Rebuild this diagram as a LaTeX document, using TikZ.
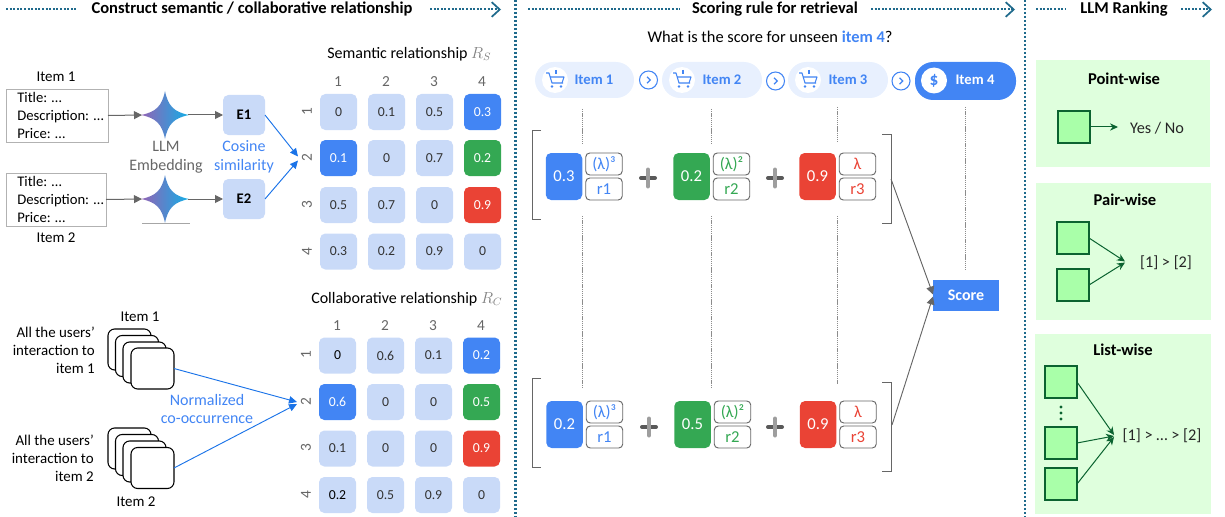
\documentclass[tikz,border=0pt]{standalone}
\usepackage{fontspec}
\setmainfont{Carlito}
\usetikzlibrary{arrows.meta}
\definecolor{cLight}{HTML}{C9DAF8}
\definecolor{cBlue}{HTML}{4285F4}
\definecolor{cGreen}{HTML}{34A853}
\definecolor{cRed}{HTML}{EA4335}
\definecolor{cPill}{HTML}{E8F0FE}
\definecolor{cTeal}{HTML}{1F6A8C}
\definecolor{cGray}{HTML}{666666}
\definecolor{cArrowBlue}{HTML}{1A73E8}
\definecolor{cPanel}{HTML}{DFFFDD}
\definecolor{cSq}{HTML}{A9FFA9}
\definecolor{cDark}{HTML}{0B6330}
\definecolor{cPurple}{HTML}{9363B5}
\definecolor{cMid}{HTML}{4C80CC}
\definecolor{cCyan}{HTML}{12AEE6}
\tikzset{
  txt/.style={inner sep=0pt,align=center,text=black,font=\fontsize{12}{14.2}\selectfont},
  small/.style={txt,font=\fontsize{11.2}{13.6}\selectfont},
  head/.style={inner sep=0pt,text=black,font=\fontsize{12.4}{14}\selectfont\bfseries},
  sz/.style 2 args={minimum width=#1*0.75pt,minimum height=#2*0.75pt,inner sep=0pt,outer sep=0pt},
  cellL/.style={sz={37}{36},rounded corners=4pt,fill=cLight,text=black!80,font=\fontsize{10.3}{12}\selectfont},
  cellB/.style={cellL,fill=cBlue,text=white},
  cellG/.style={cellL,fill=cGreen,text=white},
  cellR/.style={cellL,fill=cRed,text=white},
  axis/.style={inner sep=0pt,text=cGray,font=\fontsize{11.5}{13}\selectfont},
  itembox/.style={draw=black!30,line width=0.7pt,inner sep=0pt,outer sep=0pt,anchor=north west},
  emb/.style={sz={42}{40},rounded corners=4pt,fill=cLight,text=black,font=\fontsize{11}{12}\selectfont\bfseries},
  harrow/.style={-{Triangle[length=6pt,width=6pt]},draw=cGray,line width=0.75pt},
  barrow/.style={-{Triangle[length=6pt,width=5.5pt]},draw=cArrowBlue,line width=0.7pt},
  garrow/.style={-{Stealth[length=6pt,width=5.5pt]},draw=cDark,line width=0.75pt},
  dotline/.style={draw=cTeal,line width=1.5pt,dash pattern=on 1.5pt off 1.2pt},
  dotarrow/.style={dotline,-{Straight Barb[length=6pt,width=11pt,line width=1.3pt]}},
  vsep/.style={draw=cTeal,line width=1.6pt,dash pattern=on 1.7pt off 1.3pt},
  guide/.style={draw=black!45,line width=0.45pt,dash pattern=on 1pt off 0.6pt},
  brack/.style={draw=cGray,line width=0.6pt},
  card/.style={sz={43}{41},draw=black,fill=white,line width=0.8pt,rounded corners=5pt},
  pill/.style={rounded corners=13.5pt,fill=cPill,text=cBlue},
  wcirc/.style={circle,fill=white,minimum size=19.5pt,inner sep=0pt},
  chev/.style={circle,draw=cBlue,line width=0.8pt,fill=white,minimum size=13.5pt,inner sep=0pt},
  pilltxt/.style={inner sep=0pt,text=cBlue,font=\fontsize{11}{13}\selectfont\bfseries},
  big/.style={sz={36.5}{47},rounded corners=4pt,text=white,font=\fontsize{12.5}{14}\selectfont},
  tag/.style={sz={36.5}{22},rounded corners=3pt,draw=cGray,line width=0.7pt,fill=white,font=\fontsize{12.5}{14}\selectfont},
  panel/.style={fill=cPanel,inner sep=0pt,outer sep=0pt},
  sq/.style={sz={32}{32},draw=cDark,fill=cSq,line width=0.8pt},
  sqtxt/.style={inner sep=0pt,text=black!85,font=\fontsize{12.2}{14}\selectfont},
  cart/.pic={
    \draw[cBlue,line width=0.8pt,line join=round] (-9,-6)--(-6,-6)--(-3,4)--(8,4);
    \draw[cBlue,line width=0.8pt,line join=round] (-5,-2)--(9,-2)--(7,4);
    \draw[cBlue,line width=0.9pt] (1,-9)--(1,-5);
    \fill[cBlue] (-3,7.5) circle (1.1pt) (6,7.5) circle (1.1pt);
  },
  star/.pic={
    \shade[left color=cPurple,middle color=cMid,right color=cCyan,shading angle=90]
      (-24,0) .. controls (-9,-3) and (-3,-9) .. (0,-24)
      .. controls (3,-9) and (9,-3) .. (24,0)
      .. controls (9,3) and (3,9) .. (0,24)
      .. controls (-3,9) and (-9,3) .. (-24,0) -- cycle;
  },
  plus/.pic={
    \draw[draw=black!65,line width=3pt,line cap=round] (-7,0)--(7,0);
    \draw[draw=black!38,line width=3pt,line cap=round] (0,-8.5)--(0,8.5);
  },
  chv/.pic={\draw[cBlue,line width=0.9pt] (-1.5,-3.2)--(1.8,0)--(-1.5,3.2);}
}
\newcommand{\matrow}[9]{%
  \node[cell#8] (#1r#2c1) at (#3,#2) {#4};
  \node[cellL]  (#1r#2c2) at (#3+48,#2) {#5};
  \node[cellL]  (#1r#2c3) at (#3+96,#2) {#6};
  \node[cell#9] (#1r#2c4) at (#3+144,#2) {#7};
}
\begin{document}
\begin{tikzpicture}[x=0.75pt,y=-0.75pt]
\useasboundingbox (0,0) rectangle (1225,517);
% section headers
\node[head] (h1) at (252,9) {Construct semantic / collaborative relationship};
\coordinate (h1a) at (6,9.5); \coordinate (h1b) at (76,9.5);
\coordinate (h1c) at (430,9.5); \coordinate (h1d) at (501,9.5);
\draw[dotline] (h1a)--(h1b); \draw[dotarrow] (h1c)--(h1d);
\node[head] (h2) at (775,9) {Scoring rule for retrieval};
\coordinate (h2a) at (528,9.5); \coordinate (h2b) at (680,9.5);
\coordinate (h2c) at (871,9.5); \coordinate (h2d) at (1015,9.5);
\draw[dotline] (h2a)--(h2b); \draw[dotarrow] (h2c)--(h2d);
\node[head] (h3) at (1124,9) {LLM Ranking};
\coordinate (h3a) at (1036,9.5); \coordinate (h3b) at (1066,9.5);
\coordinate (h3c) at (1181,9.5); \coordinate (h3d) at (1212,9.5);
\draw[dotline] (h3a)--(h3b); \draw[dotarrow] (h3c)--(h3d);
\coordinate (v1a) at (515.5,0); \coordinate (v1b) at (515.5,517);
\coordinate (v2a) at (1025,0); \coordinate (v2b) at (1025,517);
\draw[vsep] (v1a)--(v1b); \draw[vsep] (v2a)--(v2b);

% item boxes
\node[small] (it1) at (56,77) {Item 1};
\node[itembox,sz={102}{53}] (b1) at (6,89) {};
\node[txt,align=left,anchor=west,font=\fontsize{11}{13.5}\selectfont] (b1t) at (17,115.5) {Title: …\\Description: …\\Price: …};
\node[itembox,sz={100}{53}] (b2) at (6,173) {};
\node[txt,align=left,anchor=west,font=\fontsize{11}{13.5}\selectfont] (b2t) at (17,199.5) {Title: …\\Description: …\\Price: …};
\node[small] (it2) at (56,238) {Item 2};
% embedding
\pic at (165,115) {star}; \pic at (165,199) {star};
\node[sz={46}{46}] (s1) at (165,115) {};
\node[sz={46}{46}] (s2) at (165,199) {};
\coordinate (s2l) at (142,223); \coordinate (s2r) at (190,223);
\draw[draw=black!35,line width=0.6pt] (s2l)--(s2r);
\node[txt,text=cGray] (embl) at (166,157) {LLM\\Embedding};
\node[emb] (E1) at (244,115) {E1};
\node[emb] (E2) at (244,199) {E2};
\node[txt,text=cBlue] (cos) at (244,157) {Cosine\\similarity};
\draw[harrow] (b1.east)--(s1.west);
\draw[harrow] (b2.east)--(s2.west);
\draw[harrow] (s1.east)--(E1.west);
\draw[harrow] (s2.east)--(E2.west);
\coordinate (t1) at (298,156.5); \coordinate (t2) at (298,160.5);
\draw[barrow] (E1.east)--(t1);
\draw[barrow] (E2.east)--(t2);
% semantic matrix
\node[txt,anchor=west] (mt1) at (327,54) {Semantic relationship \textcolor{gray}{$R_S$}};
\foreach \l/\x in {1/338,2/386,3/434,4/482} \node[axis] (sa\l) at (\x,82) {\l};
\foreach \l/\y in {1/112,2/158,3/205,4/252} \node[axis,rotate=90] (sl\l) at (307,\y) {\l};
\matrow{s}{112}{338.5}{0}{0.1}{0.5}{0.3}{L}{B}
\matrow{s}{158}{338.5}{0.1}{0}{0.7}{0.2}{B}{G}
\matrow{s}{205}{338.5}{0.5}{0.7}{0}{0.9}{L}{R}
\matrow{s}{251.5}{338.5}{0.3}{0.2}{0.9}{0}{L}{L}
% collaborative
\node[txt,anchor=west] (mt2) at (311,299) {Collaborative relationship \textcolor{gray}{$R_C$}};
\foreach \l/\x in {1/337,2/385,3/433,4/481} \node[axis] (ca\l) at (\x,326) {\l};
\foreach \l/\y in {1/355,2/402,3/448,4/495} \node[axis,rotate=90] (cl\l) at (306,\y) {\l};
\matrow{c}{355.5}{337.5}{\textcolor{black}{0}}{0.6}{0.1}{0.2}{L}{B}
\matrow{c}{402}{337.5}{0.6}{0}{0}{0.5}{B}{G}
\matrow{c}{448.5}{337.5}{0.1}{0}{0}{0.9}{L}{R}
\matrow{c}{495}{337.5}{\textcolor{black}{0.2}}{0.5}{0.9}{0}{L}{L}
% stacks
\node[small] (ci1) at (140,317) {Item 1};
\node[card] (k1a) at (129.5,349.5) {};
\node[card] (k1b) at (137,356) {};
\node[card] (k1c) at (144.5,362.5) {};
\node[card] (k1d) at (152.5,368.5) {};
\node[small,align=right,anchor=east] (cu1) at (95,350) {All the users’\\interaction to\\item 1};
\node[card] (k2a) at (129.5,448.5) {};
\node[card] (k2b) at (137,455) {};
\node[card] (k2c) at (144.5,461.5) {};
\node[card] (k2d) at (152.5,468) {};
\node[small,align=right,anchor=east] (cu2) at (94,458.5) {All the users’\\interaction to\\item 2};
\node[small] (ci2) at (136,502) {Item 2};
\coordinate (t3) at (297,402); \coordinate (t4) at (297,404);
\draw[barrow] (k1d.east)--(t3);
\draw[barrow] (k2d.east)--(t4);
\node[txt,text=cBlue] (norm) at (207,409) {Normalized\\co-occurrence};

% question
\node[txt,font=\fontsize{12.3}{14}\selectfont] (q) at (770,37) {What is the score for unseen \textcolor{cBlue}{\bfseries item 4}?};
% pills
\node[pill,sz={99}{36}] (p1) at (584.5,80) {};
\node[pill,sz={100}{36}] (p2) at (712,80) {};
\node[pill,sz={100}{36}] (p3) at (838,80) {};
\node[pill,sz={101}{38},fill=cBlue] (p4) at (965.5,81) {};
\node[wcirc] (w1) at (555,80) {}; \pic at (555,79) {cart};
\node[wcirc] (w2) at (682,80) {}; \pic at (682,79) {cart};
\node[wcirc] (w3) at (808,80) {}; \pic at (808,79) {cart};
\node[wcirc,font=\fontsize{13}{14}\selectfont\bfseries,text=cBlue] (w4) at (934,80.5) {\$};
\node[pilltxt] (pt1) at (594,79.5) {Item 1};
\node[pilltxt] (pt2) at (722,79.5) {Item 2};
\node[pilltxt] (pt3) at (848,79.5) {Item 3};
\node[pilltxt,text=white] (pt4) at (975,80) {Item 4};
\node[chev] (c1) at (648.5,80) {}; \pic at (648.5,80) {chv};
\node[chev] (c2) at (775.5,81) {}; \pic at (775.5,81) {chv};
\node[chev] (c3) at (901,81) {}; \pic at (901,81) {chv};
% guides
\foreach \n/\x/\a/\b/\c/\d in {a/582/109/145/216/387,b/711/109/145/216/387,c/837/107/143/216/384}{
  \coordinate (g\n1) at (\x,\a); \coordinate (g\n2) at (\x,\b);
  \coordinate (g\n3) at (\x,\c); \coordinate (g\n4) at (\x,\d);
  \draw[guide] (g\n1)--(g\n2); \draw[guide] (g\n3)--(g\n4);
}
\coordinate (gd1) at (965.5,107); \coordinate (gd2) at (965.5,270);
\draw[guide] (gd1)--(gd2);
% brackets
\coordinate (bl1a) at (541,130); \coordinate (bl1b) at (532,130); \coordinate (bl1c) at (532,219); \coordinate (bl1d) at (541,219);
\draw[brack] (bl1a)--(bl1b)--(bl1c)--(bl1d);
\coordinate (br1a) at (882,134); \coordinate (br1b) at (891,134); \coordinate (br1c) at (891,223); \coordinate (br1d) at (882,223);
\draw[brack] (br1a)--(br1b)--(br1c)--(br1d);
\coordinate (bl2a) at (541,378); \coordinate (bl2b) at (532,378); \coordinate (bl2c) at (532,467); \coordinate (bl2d) at (541,467);
\draw[brack] (bl2a)--(bl2b)--(bl2c)--(bl2d);
\coordinate (br2a) at (882,382); \coordinate (br2b) at (891,382); \coordinate (br2c) at (891,471); \coordinate (br2d) at (882,471);
\draw[brack] (br2a)--(br2b)--(br2c)--(br2d);
% first row
\node[big,fill=cBlue] (a1) at (564,176.5) {0.3};
\node[tag,text=cBlue] (a1t) at (604,164) {(λ)³};
\node[tag,text=cBlue] (a1b) at (604,189) {r1};
\pic at (648,178) {plus};
\node[big,fill=cGreen] (a2) at (691.5,176.5) {0.2};
\node[tag,text=cGreen] (a2t) at (731.5,164) {(λ)²};
\node[tag,text=cGreen] (a2b) at (731.5,189) {r2};
\pic at (775,178) {plus};
\node[big,fill=cRed] (a3) at (817.5,176.5) {0.9};
\node[tag,text=cRed] (a3t) at (857.5,164) {λ};
\node[tag,text=cRed] (a3b) at (857.5,189) {r3};
% second row
\node[big,fill=cBlue] (d1) at (564.5,424.5) {0.2};
\node[tag,text=cBlue] (d1t) at (604.5,412) {(λ)³};
\node[tag,text=cBlue] (d1b) at (604.5,437) {r1};
\pic at (649,427) {plus};
\node[big,fill=cGreen] (d2) at (692.5,424.5) {0.5};
\node[tag,text=cGreen] (d2t) at (732.5,412) {(λ)²};
\node[tag,text=cGreen] (d2b) at (732.5,437) {r2};
\pic at (775,427) {plus};
\node[big,fill=cRed] (d3) at (818,424.5) {0.9};
\node[tag,text=cRed] (d3t) at (858,412) {λ};
\node[tag,text=cRed] (d3b) at (858,437) {r3};
% score
\node[sz={66}{31},fill=cBlue,text=white,font=\fontsize{12}{14}\selectfont\bfseries] (score) at (966,295.5) {Score};
\coordinate (bs1) at (891,179); \coordinate (bs2) at (892,425);
\coordinate (st1) at (933,294.5); \coordinate (st2) at (933,296.5);
\draw[harrow,line width=0.7pt] (bs1)--(st1);
\draw[harrow,line width=0.7pt] (bs2)--(st2);

% ranking panels
\node[panel,sz={174}{107}] (pa) at (1123,113.5) {};
\node[panel,sz={175}{137}] (pb) at (1123.5,251.5) {};
\node[panel,sz={176}{180}] (pc) at (1123,424) {};
\node[head] (pat) at (1124,79) {Point-wise};
\node[head] (pbt) at (1125,200) {Pair-wise};
\node[head] (pct) at (1123,350) {List-wise};
\node[sq] (q1) at (1074,127) {};
\coordinate (q1e) at (1118,127);
\draw[garrow] (q1.east)--(q1e);
\node[sqtxt] (yn) at (1157,128) {Yes / No};
\node[sq] (q2) at (1073,238) {};
\node[sq] (q3) at (1073,285) {};
\coordinate (q2e) at (1125,261.5); \coordinate (q3e) at (1125,262.5);
\draw[garrow] (q2.east)--(q2e);
\draw[garrow] (q3.east)--(q3e);
\node[sqtxt] (pbr) at (1166,263) {[1] > [2]};
\node[sq] (q4) at (1061,382) {};
\node[sq] (q5) at (1061,443) {};
\node[sq] (q6) at (1061,484) {};
\fill[cDark] (1061,407) circle (1.3pt) (1061,413) circle (1.3pt) (1061,419) circle (1.3pt);
\coordinate (q4e) at (1114,435); \coordinate (q5e) at (1114,436); \coordinate (q6e) at (1114,437);
\draw[garrow] (q4.east)--(q4e);
\draw[garrow] (q5.east)--(q5e);
\draw[garrow] (q6.east)--(q6e);
\node[sqtxt] (pcr) at (1162,436) {[1] > … > [2]};
\end{tikzpicture}
\end{document}
